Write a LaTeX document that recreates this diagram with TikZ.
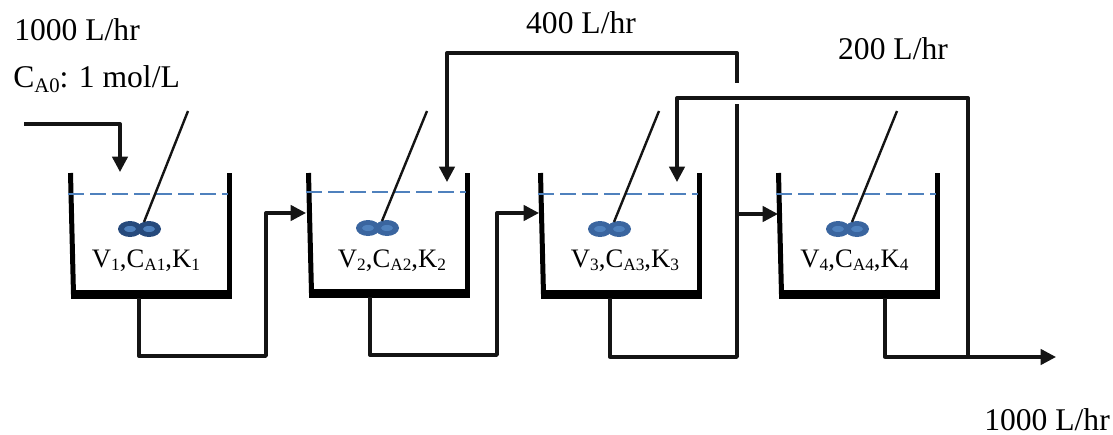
\documentclass[tikz,border=0pt]{standalone}
\usepackage{fontspec}
\setmainfont{Liberation Serif}
\usetikzlibrary{arrows.meta}
\newcommand{\lowtxt}[2][13]{\raisebox{-0.3ex}{\fontsize{#1}{14}\selectfont #2}}
\definecolor{levelblue}{HTML}{4F81BD}
\definecolor{paddark}{HTML}{264A7C}
\definecolor{padmid}{HTML}{3A659F}
\tikzset{
	pipe/.style={line width=2.5pt, line join=round, black!92},
	feedpipe/.style={pipe, -{Triangle[length=11.5pt,width=11.5pt]}},
	wall/.style={line width=3.75pt, black},
	floorline/.style={line width=6.75pt, black},
	level/.style={line width=1.6pt, color=levelblue, dash pattern=on 12pt off 4.5pt},
	shaft/.style={line width=1.8pt, black!92},
	flowlabel/.style={font=\fontsize{23.7}{26}\selectfont, inner sep=0pt},
	tanklabel/.style={font=\fontsize{20}{24}\selectfont, inner sep=0pt, anchor=base}
}
\begin{document}
\begin{tikzpicture}[x=0.75pt, y=-0.75pt]
	\useasboundingbox (0,0) rectangle (1113,435);
	% tanks: index/left/right/level/floor/label
	\foreach \n/\l/\r/\h/\f/\c in {
		1/70.5/229.5/194/294.5/146,
		2/308.5/467.5/192/293/392,
		3/540.5/699.5/194/294.5/625,
		4/778.5/937.5/194/294.5/854.5}{
		\draw[wall] (\l,173) -- (\l+3,\f);
		\draw[wall] (\r,173) -- (\r,\f);
		\draw[floorline] (\l+0.5,\f) -- (\r+2.5,\f);
		\draw[level] (\l-2.5,\h) -- (\r-1.5,\h);
		\node[tanklabel] (label\n) at (\c,267) {V\lowtxt{\n},C\lowtxt{A\n},K\lowtxt{\n}};
	}
	% paddles and shafts
	\foreach \n/\x/\y/\t/\col in {
		1/139.5/229/188/paddark,
		2/377.5/228/427/padmid,
		3/609.5/229/659/padmid,
		4/847.5/229/897/padmid}{
		\fill[\col] (\x-9.5,\y) ellipse [x radius=12, y radius=8];
		\fill[\col] (\x+9.5,\y) ellipse [x radius=12, y radius=8];
		\fill[levelblue] (\x-9.5,\y) ellipse [x radius=6, y radius=3];
		\fill[levelblue] (\x+9.5,\y) ellipse [x radius=6, y radius=3];
		\coordinate (hub\n) at (\x+4.5,\y-7);
		\coordinate (top\n) at (\t,111);
		\draw[shaft] (hub\n) -- (top\n);
	}
	% pipe ends
	\coordinate (feedstart) at (24,124);
	\coordinate (feedend) at (120,172);
	\coordinate (out1) at (139,298);
	\coordinate (low1) at (266,356);
	\coordinate (in2) at (306,213);
	\coordinate (out2) at (370,297);
	\coordinate (low2) at (497,355);
	\coordinate (in3) at (539,213);
	\coordinate (out3) at (610,298);
	\coordinate (low3) at (737,357);
	\coordinate (gaplow) at (737,104);
	\coordinate (gaphigh) at (737,83);
	\coordinate (top400) at (737,53);
	\coordinate (end400) at (447,182);
	\coordinate (branch) at (737,214);
	\coordinate (in4) at (778,214);
	\coordinate (out4) at (885,298);
	\coordinate (productend) at (1056,357);
	\coordinate (tee) at (968,357);
	\coordinate (top200) at (968,98);
	\coordinate (end200) at (677,182);
	% pipes
	\draw[feedpipe] (feedstart) -| (feedend);
	\draw[feedpipe] (out1) |- (low1) |- (in2);
	\draw[feedpipe] (out2) |- (low2) |- (in3);
	\draw[pipe] (out3) |- (low3) -- (gaplow);
	\draw[feedpipe] (gaphigh) -- (top400) -| (end400);
	\draw[feedpipe] (branch) -- (in4);
	\draw[feedpipe] (out4) |- (productend);
	\draw[feedpipe] (tee) -- (top200) -| (end200);
	% flow labels
	\node[flowlabel, anchor=base west] (feedrate) at (14,41) {1000 L/hr};
	\node[flowlabel, anchor=base west] (feedconc) at (13,88) {C\lowtxt[15.5]{A0}: 1 mol/L};
	\node[flowlabel, anchor=base] (rate400) at (581,34) {400 L/hr};
	\node[flowlabel, anchor=base] (rate200) at (893,60) {200 L/hr};
	\node[flowlabel, anchor=base west] (rateout) at (984,430) {1000 L/hr};
\end{tikzpicture}
\end{document}
